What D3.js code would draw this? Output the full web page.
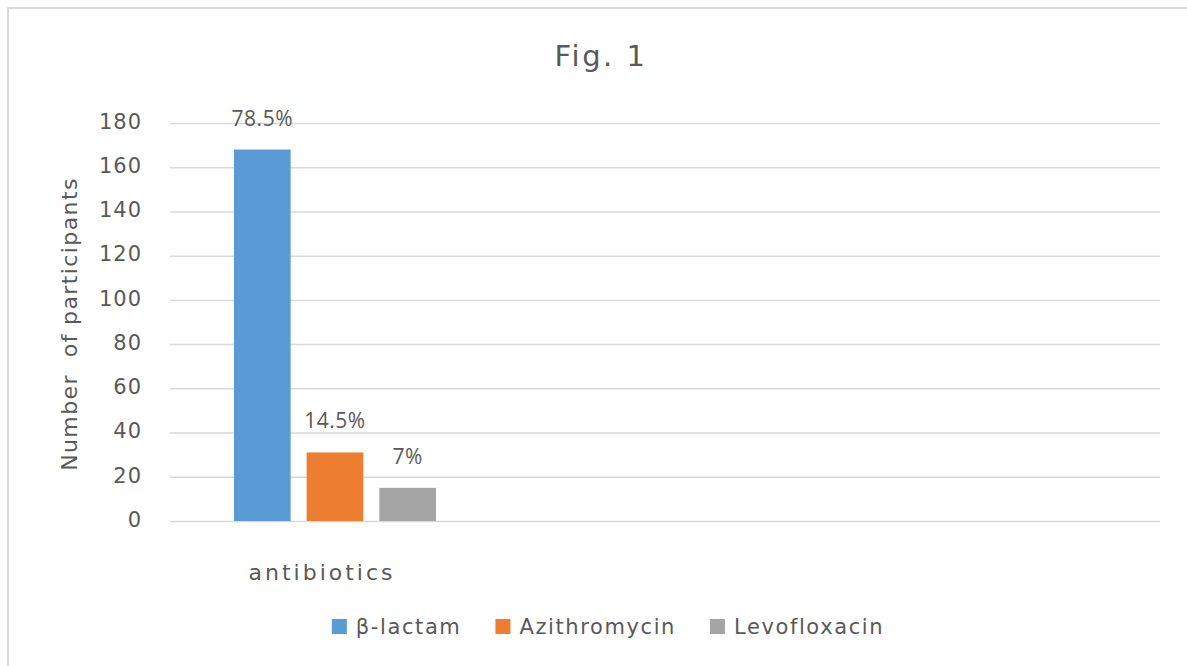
<!DOCTYPE html>
<html>
<head>
<meta charset="utf-8">
<script src="https://cdn.jsdelivr.net/npm/d3@7"></script>
<style>
  html, body { margin: 0; padding: 0; background: #fff; overflow: hidden; }
  svg { display: block; }
</style>
</head>
<body>
<svg id="chart" width="1187" height="666"></svg>
<script>
// ---- data ----
const categories = ["antibiotics"];
const seriesNames = ["β-lactam", "Azithromycin", "Levofloxacin"];
const seriesValues = [168, 31, 15];
const seriesLabels = ["78.5%", "14.5%", "7%"];
const seriesColors = ["#5B9BD5", "#ED7D31", "#A5A5A5"];
const yTicks = [0, 20, 40, 60, 80, 100, 120, 140, 160, 180];
const chartTitle = "Fig. 1";
const yTitle = "Number  of participants";
const emptySlots = 2; // empty category slots on the category axis

// ---- layout ----
const W = 1187, H = 666;
const plot = { left: 170, right: 1160, top: 123, bottom: 521 };
const textColor = "#595959";
const gridColor = "#D9D9D9";

const svg = d3.select("#chart");
svg.append("rect").attr("x", 0).attr("y", 0).attr("width", W).attr("height", H).attr("fill", "#fff");
// outer chart border (right/bottom cropped out of view)
svg.append("path")
  .attr("d", `M8,${H + 10}V8H${W + 10}`)
  .attr("fill", "none").attr("stroke", gridColor).attr("stroke-width", 2);

const y = d3.scaleLinear().domain([0, 180]).range([plot.bottom, plot.top]);
const slotDomain = categories.concat(d3.range(emptySlots).map(i => "_empty" + i));
const x0 = d3.scaleBand().domain(slotDomain).range([plot.left, plot.right]);
const x1 = d3.scaleBand().domain(seriesNames).range([0, x0.bandwidth()])
  .paddingInner(0.22).paddingOuter(0.88);

// gridlines via axis
const yGrid = d3.axisLeft(y).tickValues(yTicks).tickSize(-(plot.right - plot.left)).tickFormat("");
const g = svg.append("g").attr("transform", `translate(${plot.left},0)`).call(yGrid);
g.select(".domain").remove();
g.selectAll(".tick line").attr("stroke", gridColor).attr("stroke-width", 1.5);

// y tick labels
const yAxis = d3.axisLeft(y).tickValues(yTicks).tickSize(0).tickPadding(28);
const ya = svg.append("g").attr("transform", `translate(${plot.left},0)`).call(yAxis);
ya.select(".domain").remove();
ya.selectAll(".tick text")
  .attr("fill", textColor)
  .attr("font-family", "DejaVu Sans")
  .attr("font-size", 21)
  .attr("letter-spacing", 1)
  .attr("dy", "0.25em");

// bars
const barData = seriesNames.map((s, i) => ({ cat: categories[0], s, v: seriesValues[i], label: seriesLabels[i], color: seriesColors[i] }));
const bars = svg.append("g");
bars.selectAll("rect").data(barData).join("rect")
  .attr("x", d => x0(d.cat) + x1(d.s))
  .attr("y", d => y(d.v))
  .attr("width", x1.bandwidth())
  .attr("height", d => y(0) - y(d.v))
  .attr("fill", d => d.color);

// data labels
bars.selectAll("text").data(barData).join("text")
  .attr("x", d => x0(d.cat) + x1(d.s) + x1.bandwidth() / 2)
  .attr("y", d => y(d.v) - 24)
  .attr("text-anchor", "middle")
  .attr("fill", textColor)
  .attr("font-family", "Open Sans")
  .attr("font-size", 21)
  .attr("letter-spacing", 0.5)
  .text(d => d.label);

// category label
svg.append("g").selectAll("text").data(categories).join("text")
  .attr("x", d => x0(d) + x0.bandwidth() / 2 - 13)
  .attr("y", 580)
  .attr("text-anchor", "middle")
  .attr("fill", textColor)
  .attr("font-family", "DejaVu Sans")
  .attr("font-size", 22)
  .attr("letter-spacing", 3)
  .text(d => d);

// title
svg.append("text")
  .attr("x", 601).attr("y", 66)
  .attr("text-anchor", "middle")
  .attr("fill", textColor)
  .attr("font-family", "DejaVu Sans")
  .attr("font-size", 29)
  .attr("letter-spacing", 2.5)
  .text(chartTitle);

// y axis title
svg.append("text")
  .attr("transform", `translate(77,${(plot.top + plot.bottom) / 2 + 2}) rotate(-90)`)
  .attr("text-anchor", "middle")
  .attr("fill", textColor)
  .attr("font-family", "DejaVu Sans")
  .attr("font-size", 22)
  .attr("letter-spacing", 1.4)
  .attr("xml:space", "preserve")
  .style("white-space", "pre")
  .text(yTitle);

// legend
const legend = svg.append("g");
const items = legend.selectAll("g").data(seriesNames).join("g");
items.append("rect").attr("width", 15).attr("height", 15).attr("y", -15)
  .attr("fill", (d, i) => seriesColors[i]);
items.append("text").attr("x", 24).attr("y", 0)
  .attr("fill", textColor)
  .attr("font-family", "DejaVu Sans")
  .attr("font-size", 21)
  .attr("letter-spacing", 1.6)
  .text(d => d);
let cx = 0;
const gap = 34;
items.each(function () {
  const w = 24 + this.querySelector("text").getComputedTextLength();
  d3.select(this).attr("transform", `translate(${cx},0)`);
  cx += w + gap;
});
const totalW = cx - gap;
legend.attr("transform", `translate(${608 - totalW / 2},634)`);
</script>
</body>
</html>
